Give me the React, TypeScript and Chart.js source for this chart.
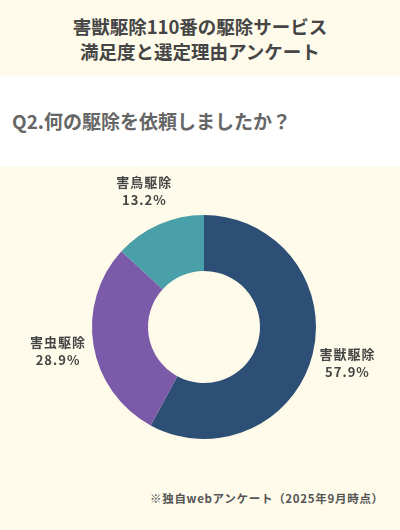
import { useEffect, useRef } from "react"
import { Chart, registerables } from "chart.js"

Chart.register(...registerables)

const categories = ["害獣駆除", "害虫駆除", "害鳥駆除"]
const shares = [57.9, 28.9, 13.2]
const sliceColors = ["#2e4f75", "#7b5ba9", "#4aa0a9"]

const CREAM = "#fefbea"
const FONT = "'Noto Sans CJK JP', 'Noto Sans', sans-serif"

// draws "name / xx.x%" outside each slice
const outsideLabels = {
  id: "outsideLabels",
  afterDatasetsDraw(chart: Chart) {
    const ctx = chart.ctx
    const meta = chart.getDatasetMeta(0)
    meta.data.forEach((arc: any, i: number) => {
      const { x, y, startAngle, endAngle, outerRadius } = arc.getProps(
        ["x", "y", "startAngle", "endAngle", "outerRadius"],
        true
      )
      const mid = (startAngle + endAngle) / 2
      const r = outerRadius + 36
      const lx = x + Math.cos(mid) * r
      const ly = y + Math.sin(mid) * r
      ctx.save()
      ctx.fillStyle = "#454545"
      ctx.textAlign = "center"
      ctx.textBaseline = "middle"
      ctx.font = `bold 13px ${FONT}`
      ;(ctx as any).letterSpacing = "1px"
      ctx.fillText(categories[i], lx, ly - 9)
      ctx.fillText(shares[i].toFixed(1) + "%", lx, ly + 9)
      ctx.restore()
    })
  },
}

function DonutChart() {
  const chartRef = useRef<HTMLCanvasElement>(null)
  const chartInstance = useRef<Chart | null>(null)

  useEffect(() => {
    if (chartRef.current) {
      const ctx = chartRef.current.getContext("2d")
      if (ctx) {
        if (chartInstance.current) {
          chartInstance.current.destroy()
        }
        chartInstance.current = new Chart(ctx, {
          type: "doughnut",
          data: {
            labels: categories,
            datasets: [
              {
                data: shares,
                backgroundColor: sliceColors,
                borderWidth: 0,
              },
            ],
          },
          options: {
            animation: false,
            responsive: false,
            cutout: "50%",
            layout: {
              padding: { top: 49, bottom: 47, left: 92, right: 84 },
            },
            plugins: {
              legend: { display: false },
              tooltip: { enabled: false },
            },
          },
          plugins: [outsideLabels],
        })
      }
    }
    return () => {
      if (chartInstance.current) {
        chartInstance.current.destroy()
        chartInstance.current = null
      }
    }
  }, [])

  return <canvas ref={chartRef} width={400} height={320} style={{ display: "block" }} />
}

export default function App() {
  useEffect(() => {
    document.body.style.margin = "0"
  }, [])

  return (
    <div style={{ width: 400, height: 530, background: CREAM, fontFamily: FONT, overflow: "hidden", position: "relative" }}>
      <div
        style={{
          height: 76,
          display: "flex",
          flexDirection: "column",
          justifyContent: "center",
          alignItems: "center",
          color: "#454545",
          fontWeight: "bold",
          fontSize: 18.5,
          lineHeight: "25px",
          paddingTop: 2,
          boxSizing: "border-box",
        }}
      >
        <div>害獣駆除110番の駆除サービス</div>
        <div>満足度と選定理由アンケート</div>
      </div>
      <div
        style={{
          height: 90,
          background: "#ffffff",
          display: "flex",
          alignItems: "center",
          paddingLeft: 12,
          color: "#666666",
          fontWeight: "bold",
          fontSize: 19,
          boxSizing: "border-box",
          paddingBottom: 2,
        }}
      >
        Q2.何の駆除を依頼しましたか？
      </div>
      <DonutChart />
      <div
        style={{
          position: "absolute",
          left: 150,
          top: 490,
          color: "#555555",
          fontWeight: "bold",
          fontSize: 11.5,
          letterSpacing: 0.7,
          whiteSpace: "nowrap",
        }}
      >
        ※独自webアンケート（2025年9月時点）
      </div>
    </div>
  )
}
